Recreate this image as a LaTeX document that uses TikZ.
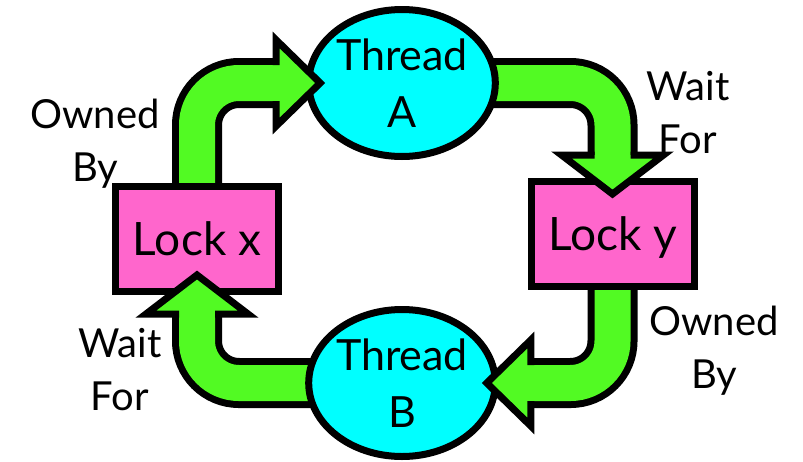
\documentclass[tikz,border=0pt]{standalone}
\usepackage{fontspec}
\setmainfont{Lato}
\usetikzlibrary{calc,backgrounds,shapes.geometric}

\definecolor{threadcyan}{RGB}{0,255,255}
\definecolor{lockpink}{RGB}{255,102,204}
\definecolor{arrowgreen}{RGB}{82,250,35}

\tikzset{
  threadnode/.style={ellipse, draw=black, fill=threadcyan, line width=7pt,
    minimum width=183pt, minimum height=147pt, inner sep=0pt, align=center,
    font=\fontsize{43}{57}\selectfont},
  locknode/.style={rectangle, draw=black, fill=lockpink, line width=7pt,
    minimum width=163pt, minimum height=105pt, inner sep=0pt, text depth=0pt,
    font=\fontsize{46}{52}\selectfont},
  edgelabel/.style={align=center, inner sep=0pt, font=\fontsize{40}{53}\selectfont},
  shaftout/.style={draw=black, line width=50pt, rounded corners=42pt},
  shaftin/.style={draw=arrowgreen, line width=36pt, rounded corners=42pt},
  headshape/.style={fill=arrowgreen, draw=black, line width=7pt, line join=miter},
}

\begin{document}
\begin{tikzpicture}[x=1pt,y=-1pt]
  \useasboundingbox (0,0) rectangle (803,461);

  % threads and locks
  \node[threadnode] (ta) at (402,83)  {Thread\\A};
  \node[threadnode] (tb) at (402,383) {Thread\\B};
  \node[locknode]   (lx) at (197,239) {Lock x};
  \node[locknode]   (ly) at (612.5,234) {Lock y};

  % edge labels
  \node[edgelabel] (own1)  at (95,143.5)  {Owned\\By};
  \node[edgelabel] (wait1) at (688,112.5) {Wait\\For};
  \node[edgelabel] (own2)  at (714,350.5) {Owned\\By};
  \node[edgelabel] (wait2) at (120,370)   {Wait\\For};

  % arrow tips and head bases
  \coordinate (t1) at ($(ta.west)+(15,0)$);
  \coordinate (b1) at ($(t1)+(-44,0)$);
  \coordinate (t2) at ($(ly.north)+(0,16)$);
  \coordinate (b2) at ($(t2)+(0,-39)$);
  \coordinate (t3) at ($(tb.east)+(-12,0)$);
  \coordinate (b3) at ($(t3)+(44,0)$);
  \coordinate (t4) at ($(lx.south)+(0,-20)$);
  \coordinate (b4) at ($(t4)+(0,39)$);

  % fat shafts, behind the nodes
  \begin{pgfonlayer}{background}
    \foreach \st in {shaftout,shaftin} {
      \draw[\st] (lx.north) |- (b1);
      \draw[\st] (ta.center) -| (b2);
      \draw[\st] (ly.south) |- (b3);
      \draw[\st] (tb.center) -| (b4);
    }
  \end{pgfonlayer}

  % arrow heads, over the nodes
  \filldraw[headshape] ($(b1)+(0,-18)$) -- ($(b1)+(0,-43)$) -- (t1) -- ($(b1)+(0,43)$) -- ($(b1)+(0,18)$);
  \filldraw[headshape] ($(b2)+(-18,0)$) -- ($(b2)+(-51,0)$) -- (t2) -- ($(b2)+(51,0)$) -- ($(b2)+(18,0)$);
  \filldraw[headshape] ($(b3)+(0,-18)$) -- ($(b3)+(0,-43)$) -- (t3) -- ($(b3)+(0,43)$) -- ($(b3)+(0,18)$);
  \filldraw[headshape] ($(b4)+(-18,0)$) -- ($(b4)+(-51,0)$) -- (t4) -- ($(b4)+(51,0)$) -- ($(b4)+(18,0)$);
\end{tikzpicture}
\end{document}
